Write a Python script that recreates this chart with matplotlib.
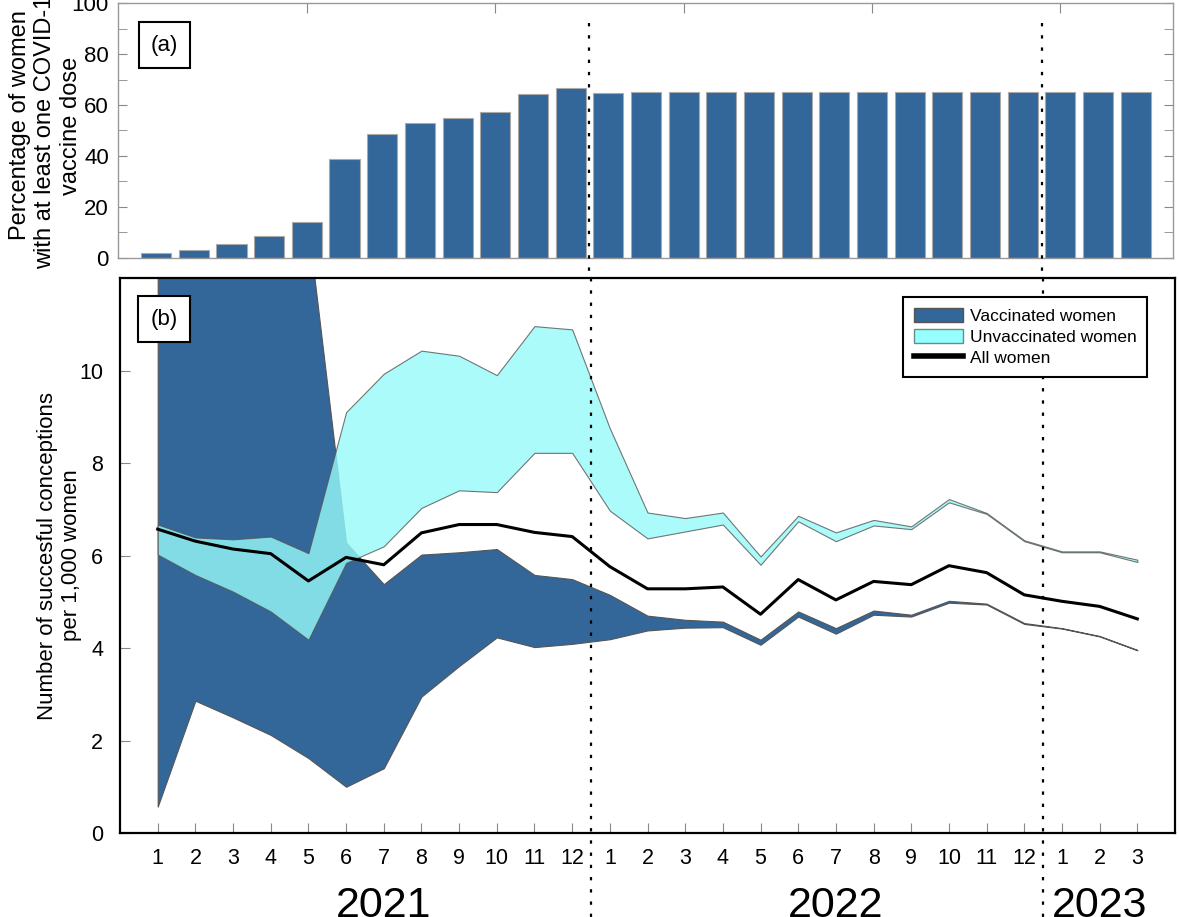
import matplotlib
matplotlib.use('Agg')
import matplotlib.pyplot as plt
import matplotlib.transforms as mtransforms
from matplotlib.patches import Patch
from matplotlib.lines import Line2D
import numpy as np

plt.rcParams['font.family'] = ['Liberation Sans', 'DejaVu Sans']

# months Jan 2021 .. Mar 2023
months = [str(m) for m in range(1, 13)] * 2 + ['1', '2', '3']
years = ['2021', '2022', '2023']
year_pos = [6, 18, 25]
year_breaks = [11.5, 23.5]

# (a) share of women with at least one dose, %
vacc_pct = [2.1, 3.0, 5.6, 8.8, 14.0, 38.7, 48.6, 52.9, 54.9, 57.3, 64.2, 66.5,
            64.6, 65.0, 65.0, 65.0, 65.0, 65.0, 65.0, 65.1, 65.1, 65.2, 65.2, 65.2,
            65.1, 65.1, 65.1]

# (b) conceptions per 1,000 women, band limits
# first months of the vaccinated upper limit run off the top of the axis
vacc_high = [16.0, 15.5, 15.0, 14.5, 13.1, 6.28, 5.38, 6.02, 6.07, 6.14, 5.58, 5.49,
             5.15, 4.70, 4.61, 4.57, 4.18, 4.79, 4.43, 4.81, 4.72, 5.02, 4.96, 4.54,
             4.43, 4.26, 3.96]
vacc_low = [0.57, 2.86, 2.50, 2.12, 1.62, 1.00, 1.40, 2.95, 3.61, 4.23, 4.02, 4.09,
            4.19, 4.38, 4.44, 4.45, 4.07, 4.68, 4.31, 4.72, 4.68, 4.98, 4.94, 4.52,
            4.42, 4.25, 3.95]
unvacc_high = [6.67, 6.39, 6.35, 6.41, 6.05, 9.10, 9.93, 10.43, 10.32, 9.90, 10.96, 10.89,
               8.75, 6.93, 6.81, 6.93, 5.98, 6.86, 6.50, 6.77, 6.63, 7.22, 6.92, 6.33,
               6.09, 6.09, 5.91]
unvacc_low = [6.02, 5.58, 5.22, 4.79, 4.18, 5.84, 6.20, 7.03, 7.41, 7.37, 8.22, 8.22,
              6.97, 6.37, 6.52, 6.67, 5.80, 6.74, 6.31, 6.65, 6.57, 7.15, 6.90, 6.31,
              6.07, 6.07, 5.86]
all_women = [6.57, 6.31, 6.14, 6.04, 5.45, 5.96, 5.80, 6.49, 6.67, 6.67, 6.50, 6.41,
             5.76, 5.28, 5.28, 5.32, 4.73, 5.48, 5.04, 5.44, 5.37, 5.78, 5.63, 5.15,
             5.01, 4.90, 4.63]

dark_blue = '#336699'
cyan = '#96FAFA'
x = np.arange(len(months))

fig = plt.figure(figsize=(11.79, 9.17), dpi=100)
ax1 = fig.add_axes([0.1005, 0.7187, 0.8948, 0.278])
ax2 = fig.add_axes([0.1018, 0.0916, 0.8948, 0.6052])

# ---- panel (a)
ax1.bar(x, vacc_pct, width=0.8, color=dark_blue, edgecolor='#aaaaaa', linewidth=0.8)
ax1.set_xlim(-1, 27)
ax1.set_ylim(0, 100)
ax1.set_yticks(range(0, 101, 20))
ax1.set_yticks(range(10, 100, 20), minor=True)
ax1.set_xticks([4, 9, 14, 19, 24])
ax1.tick_params(axis='x', top=True, bottom=False, labelbottom=False,
                direction='in', length=7, color='#888888')
ax1.tick_params(axis='y', which='both', left=True, right=True, direction='in',
                length=6.5, color='#888888', labelsize=16, pad=7)
for s in ax1.spines.values():
    s.set_color('#999999')
    s.set_linewidth(1)
ax1.set_ylabel('Percentage of women\nwith at least one COVID-19\nvaccine dose', fontsize=17)
ax1.yaxis.set_label_coords(-0.035, 0.52)
ax1.text(0.0436, 0.835, '(a)', transform=ax1.transAxes, fontsize=16, ha='center', va='center',
         bbox=dict(boxstyle='square,pad=0.55', facecolor='white', edgecolor='black', linewidth=1.5))
for b in year_breaks:
    ax1.axvline(b, ymin=-0.1, ymax=0.935, color='black', linestyle=(0, (1.5, 4)),
                linewidth=1.6, clip_on=False, zorder=5)

# ---- panel (b)
ax2.fill_between(x, vacc_low, vacc_high, facecolor=dark_blue, edgecolor='#555555',
                 linewidth=0.8, zorder=2)
ax2.fill_between(x, unvacc_low, unvacc_high, facecolor=cyan, alpha=0.8, edgecolor='#555555',
                 linewidth=0.8, zorder=3)
ax2.plot(x, all_women, color='black', linewidth=2.2, zorder=4)
ax2.set_xlim(-1, 27)
ax2.set_ylim(0, 12)
ax2.set_yticks(range(0, 11, 2))
ax2.set_xticks(x)
ax2.set_xticklabels(months)
ax2.tick_params(axis='x', direction='in', length=7, color='#888888', labelsize=15.5, pad=11)
ax2.tick_params(axis='y', direction='in', length=7, color='#888888', labelsize=15.5, pad=12)
for s in ax2.spines.values():
    s.set_color('black')
    s.set_linewidth(1.6)
ax2.set_ylabel('Number of succesful conceptions\nper 1,000 women', fontsize=16)
ax2.yaxis.set_label_coords(-0.036, 0.5)
ax2.text(0.0417, 0.926, '(b)', transform=ax2.transAxes, fontsize=16, ha='center', va='center',
         bbox=dict(boxstyle='square,pad=0.55', facecolor='white', edgecolor='black', linewidth=1.5))
for b in year_breaks:
    ax2.axvline(b, ymin=-0.152, ymax=1.0, color='black', linestyle=(0, (1.5, 4)),
                linewidth=1.6, clip_on=False, zorder=5)

trans = mtransforms.blended_transform_factory(ax2.transData, ax2.transAxes)
for yr, p in zip(years, year_pos):
    ax2.text(p, -0.152, yr, transform=trans, fontsize=31, ha='center', va='baseline')

handles = [Patch(facecolor=dark_blue, edgecolor='#555555', linewidth=1),
           Patch(facecolor='#96FFFF', edgecolor='#6a8a8a', linewidth=1),
           Line2D([0], [0], color='black', linewidth=4)]
leg = ax2.legend(handles, ['Vaccinated women', 'Unvaccinated women', 'All women'],
                 loc='upper right', bbox_to_anchor=(0.9735, 0.966), fontsize=12.5,
                 fancybox=False, framealpha=1, edgecolor='black', handlelength=2.8,
                 handleheight=0.85, handletextpad=0.4, labelspacing=0.3, borderpad=0.62,
                 borderaxespad=0)
leg.get_frame().set_linewidth(1.5)

fig.savefig('out.png', dpi=100)
